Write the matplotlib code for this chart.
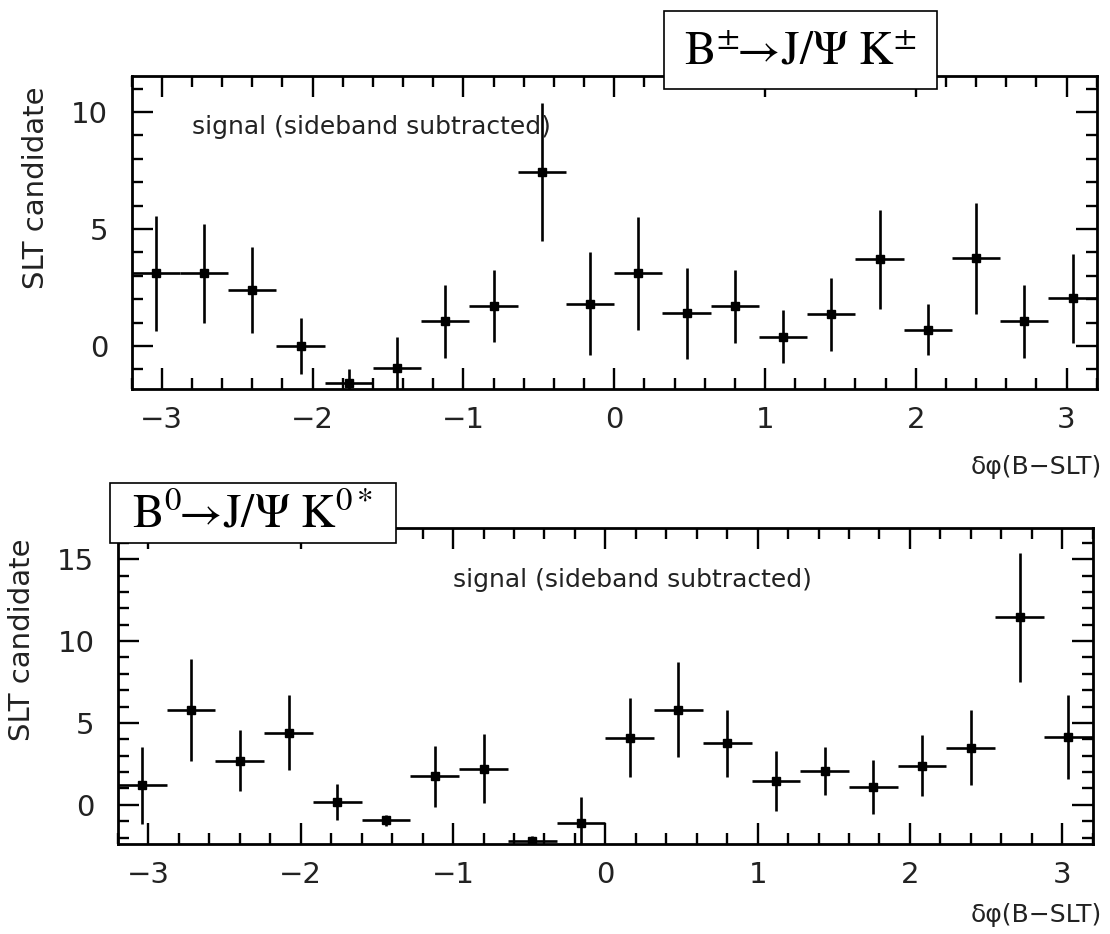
import matplotlib
matplotlib.use("Agg")
import matplotlib.pyplot as plt
from matplotlib.ticker import MultipleLocator
from matplotlib.patches import Rectangle

# 20 bins between -3.2 and 3.2
bin_edges_lo = -3.2
bin_width = 0.32
nbins = 20
phi = [bin_edges_lo + bin_width * (i + 0.5) for i in range(nbins)]

# B+- -> J/psi K+-
top_vals = [3.1, 3.1, 2.4, 0.0, -1.6, -0.95, 1.05, 1.7, 7.45, 1.8,
            3.1, 1.4, 1.7, 0.4, 1.35, 3.7, 0.7, 3.75, 1.05, 2.05]
top_errs = [2.45, 2.1, 1.85, 1.2, 0.6, 1.35, 1.57, 1.53, 2.95, 2.2,
            2.43, 1.95, 1.55, 1.14, 1.55, 2.1, 1.1, 2.37, 1.57, 1.9]

# B0 -> J/psi K0*
bot_vals = [1.2, 5.8, 2.7, 4.4, 0.15, -0.95, 1.75, 2.2, -2.2, -1.1,
            4.1, 5.8, 3.75, 1.45, 2.05, 1.1, 2.4, 3.5, 11.45, 4.15]
bot_errs = [2.35, 3.1, 1.87, 2.3, 1.1, 0.35, 1.86, 2.1, 0.3, 1.6,
            2.4, 2.9, 2.05, 1.85, 1.46, 1.63, 1.84, 2.3, 3.93, 2.55]

plt.rcParams['mathtext.fontset'] = 'stix'
plt.rcParams['font.family'] = 'DejaVu Sans'

fig = plt.figure(figsize=(11.1, 9.34), dpi=100)
W, H = 1110.0, 934.0

def px_axes(x0, y0, x1, y1):
    return fig.add_axes([x0 / W, 1 - y1 / H, (x1 - x0) / W, (y1 - y0) / H])

ax1 = px_axes(131.7, 76, 1096.7, 389.3)
ax2 = px_axes(118, 528, 1092.7, 844)

def style(ax, vals, errs, ylim):
    ax.errorbar(phi, vals, xerr=bin_width / 2, yerr=errs, fmt='s', color='black',
                ms=5.5, elinewidth=1.9, capsize=0)
    ax.set_xlim(-3.2, 3.2)
    ax.set_ylim(*ylim)
    ax.xaxis.set_major_locator(MultipleLocator(1))
    ax.xaxis.set_minor_locator(MultipleLocator(0.2))
    ax.yaxis.set_major_locator(MultipleLocator(5))
    ax.yaxis.set_minor_locator(MultipleLocator(1))
    ax.tick_params(which='both', direction='in', top=True, right=True, width=1.7)
    ax.tick_params(which='major', length=15)
    ax.tick_params(which='minor', length=8)
    ax.tick_params(axis='x', which='major', pad=12)
    ax.tick_params(axis='y', which='major', pad=17)
    for lab in ax.get_xticklabels() + ax.get_yticklabels():
        lab.set_fontsize(21)
        lab.set_color('#222222')
    for sp in ax.spines.values():
        sp.set_linewidth(2)

style(ax1, top_vals, top_errs, (-1.85, 11.54))
style(ax2, bot_vals, bot_errs, (-2.39, 16.9))

fig.text(192 / W, 1 - 127 / H, 'signal (sideband subtracted)',
         fontsize=18, va='center', ha='left', color='#222222')
fig.text(453 / W, 1 - 580 / H, 'signal (sideband subtracted)',
         fontsize=18, va='center', ha='left', color='#222222')

fig.text(36 / W, 1 - 188 / H, 'SLT candidate', fontsize=21,
         rotation=90, va='center', ha='center', color='#222222')
fig.text(22 / W, 1 - 640 / H, 'SLT candidate', fontsize=21,
         rotation=90, va='center', ha='center', color='#222222')

fig.text(1102 / W, 1 - 467 / H, 'δφ(B−SLT)', fontsize=18,
         va='center', ha='right', color='#222222')
fig.text(1102 / W, 1 - 915 / H, 'δφ(B−SLT)', fontsize=18,
         va='center', ha='right', color='#222222')

# title boxes
for (x0, y0, x1, y1), label in [((664, 11, 937, 89), r'$\mathrm{B^{\pm}\!\!\rightarrow\! J/\Psi\ K^{\pm}}$'),
                                ((110, 483, 396, 543), r'$\mathrm{B^{0}\!\!\rightarrow\! J/\Psi\ K^{0*}}$')]:
    fig.add_artist(Rectangle((x0 / W, 1 - y1 / H), (x1 - x0) / W, (y1 - y0) / H,
                             transform=fig.transFigure, facecolor='white',
                             edgecolor='black', linewidth=1.2, zorder=10))
    fig.text((x0 + x1) / 2 / W, 1 - ((y0 + y1) / 2 + 2) / H, label, fontsize=34,
             ha='center', va='center', zorder=11)

fig.savefig('out.png', dpi=100)
